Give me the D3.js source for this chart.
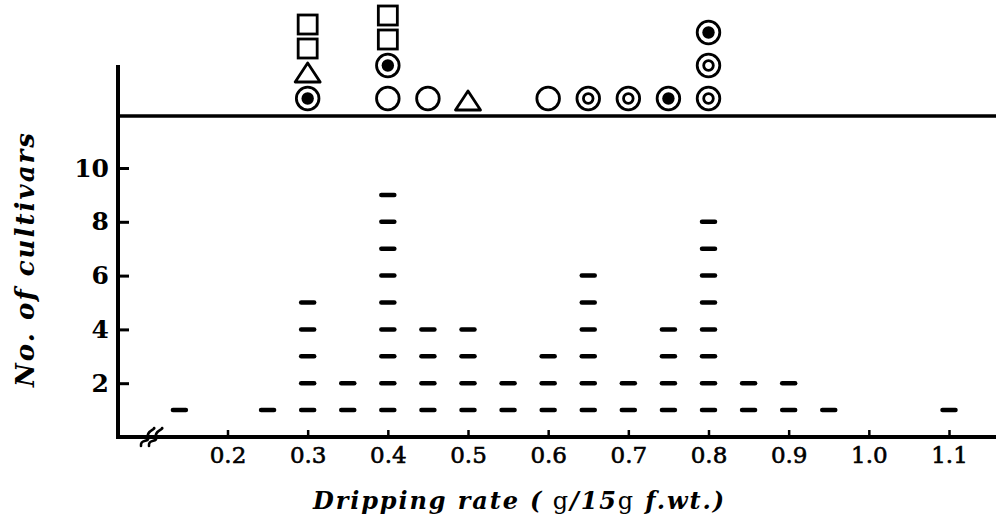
<!DOCTYPE html>
<html>
<head>
<meta charset="utf-8">
<script src="https://cdn.jsdelivr.net/npm/d3@7"></script>
<style>
  body { margin: 0; background: #fff; }
  text { font-family: "DejaVu Serif", serif; fill: #000; }
</style>
</head>
<body>
<div id="chart"></div>
<script>

// set the dimensions of the graph
var width = 999
var height = 526

// dripping rate classes and the number of cultivars in each
var rates  = [0.14, 0.25, 0.3, 0.35, 0.4, 0.45, 0.5, 0.55, 0.6, 0.65, 0.7, 0.75, 0.8, 0.85, 0.9, 0.95, 1.1]
var counts = [1, 1, 5, 2, 9, 4, 4, 2, 3, 6, 2, 4, 8, 2, 2, 1, 1]

// axis ticks
var xTicks = [0.2, 0.3, 0.4, 0.5, 0.6, 0.7, 0.8, 0.9, 1.0, 1.1]
var xTickLabels = ["0.2", "0.3", "0.4", "0.5", "0.6", "0.7", "0.8", "0.9", "1.0", "1.1"]
var yTicks = [2, 4, 6, 8, 10]

// symbols above the top line, stacked from the bottom up
var symbolRates = [0.3, 0.4, 0.45, 0.5, 0.6, 0.65, 0.7, 0.75, 0.8]
var symbolStacks = [
  ["dot", "triangle", "square", "square"],
  ["circle", "dot", "square", "square"],
  ["circle"],
  ["triangle"],
  ["circle"],
  ["ring"],
  ["ring"],
  ["dot"],
  ["ring", "ring", "dot"]
]

var svg = d3.select("#chart")
  .append("svg")
    .attr("width", width)
    .attr("height", height)

var x = d3.scaleLinear().domain([0.2, 1.1]).range([227.5, 949])
var y = d3.scaleLinear().domain([0, 10]).range([437, 168])

var left = 118, right = 996, topY = 65, lineY = 116

// frame: y axis, x axis, and the line the symbols stand on
svg.append("line")
  .attr("x1", left).attr("x2", left).attr("y1", topY).attr("y2", y(0) + 2)
  .attr("stroke", "#000").attr("stroke-width", 4)
svg.append("line")
  .attr("x1", left - 2).attr("x2", right).attr("y1", y(0)).attr("y2", y(0))
  .attr("stroke", "#000").attr("stroke-width", 4)
svg.append("line")
  .attr("x1", left - 2).attr("x2", right).attr("y1", lineY).attr("y2", lineY)
  .attr("stroke", "#000").attr("stroke-width", 3.5)

// axis break on the x axis (two wavy strokes)
var brk = svg.append("g").attr("transform", "translate(152," + y(0) + ")")
;[-4, 4].forEach(function(dx) {
  brk.append("path")
    .attr("d", "M" + (dx - 7) + ",9 C" + (dx - 8) + ",1 " + (dx + 2) + ",6 " + dx + ",0 S" + (dx + 8) + ",-8 " + (dx + 6) + ",-9")
    .attr("fill", "none").attr("stroke", "#000").attr("stroke-width", 2.6).attr("stroke-linecap", "round")
})

// x axis ticks and labels
var xAxis = svg.append("g")
  .attr("transform", "translate(0," + y(0) + ")")
  .call(d3.axisBottom(x)
    .tickValues(xTicks)
    .tickFormat(function(d, i) { return xTickLabels[i] })
    .tickSizeInner(-7)
    .tickSizeOuter(0)
    .tickPadding(10))
xAxis.select(".domain").remove()
xAxis.selectAll(".tick line").attr("stroke", "#000").attr("stroke-width", 2.5)
xAxis.selectAll(".tick text")
  .attr("font-family", "DejaVu Serif")
  .attr("font-size", 23)
  .attr("fill", "#000")
  .attr("stroke", "#000").attr("stroke-width", 0.6)

// y axis ticks and labels
var yAxis = svg.append("g")
  .attr("transform", "translate(" + left + ",0)")
  .call(d3.axisLeft(y)
    .tickValues(yTicks)
    .tickSizeInner(-11)
    .tickSizeOuter(0)
    .tickPadding(9))
yAxis.select(".domain").remove()
yAxis.selectAll(".tick line").attr("stroke", "#000").attr("stroke-width", 3)
yAxis.selectAll(".tick text")
  .attr("font-family", "DejaVu Serif")
  .attr("font-weight", "bold")
  .attr("font-size", 25)
  .attr("fill", "#000")

// one dash per cultivar
var dashes = []
rates.forEach(function(r, i) {
  for (var k = 1; k <= counts[i]; k++) dashes.push({ rate: r, n: k })
})
svg.selectAll(".dash")
  .data(dashes)
  .enter()
  .append("line")
    .attr("class", "dash")
    .attr("x1", function(d) { return x(d.rate) - 6.5 })
    .attr("x2", function(d) { return x(d.rate) + 6.5 })
    .attr("y1", function(d) { return y(d.n) })
    .attr("y2", function(d) { return y(d.n) })
    .attr("stroke", "#000")
    .attr("stroke-width", 4.5)
    .attr("stroke-linecap", "round")

// symbols
var symSize = { circle: 25, dot: 25, ring: 25, triangle: 21, square: 21 }
var isRound = function(t) { return t == "circle" || t == "dot" || t == "ring" }
symbolRates.forEach(function(r, i) {
  var cx = x(r)
  var bottom = lineY - 5
  var prev = null
  symbolStacks[i].forEach(function(type) {
    if (prev) bottom -= (isRound(prev) && isRound(type)) ? 8 : 3
    var h = symSize[type]
    var cy = bottom - h / 2
    var g = svg.append("g").attr("transform", "translate(" + cx + "," + cy + ")")
    if (type == "square") {
      g.append("rect").attr("x", -9.5).attr("y", -9.5).attr("width", 19).attr("height", 19)
        .attr("fill", "#fff").attr("stroke", "#000").attr("stroke-width", 2.8)
    } else if (type == "triangle") {
      g.append("path").attr("d", "M0,-9.5 L12.5,9.5 L-12.5,9.5 Z")
        .attr("fill", "#fff").attr("stroke", "#000").attr("stroke-width", 2.8).attr("stroke-linejoin", "round")
    } else {
      g.append("circle").attr("r", 11.3)
        .attr("fill", "#fff").attr("stroke", "#000").attr("stroke-width", 2.8)
      if (type == "dot") g.append("circle").attr("r", 6.2).attr("fill", "#000")
      if (type == "ring") g.append("circle").attr("r", 4.8).attr("fill", "none").attr("stroke", "#000").attr("stroke-width", 2.8)
    }
    bottom = bottom - h
    prev = type
  })
})

// axis titles
svg.append("text")
  .attr("transform", "translate(34,260) rotate(-90)")
  .attr("text-anchor", "middle")
  .attr("font-size", 26)
  .attr("font-weight", "bold")
  .attr("font-style", "italic")
  .attr("textLength", 254)
  .attr("lengthAdjust", "spacing")
  .text("No. of cultivars")

var xt = svg.append("text")
  .attr("x", 313).attr("y", 509)
  .attr("font-size", 24)
  .attr("textLength", 411)
  .attr("lengthAdjust", "spacing")
xt.append("tspan").attr("font-weight", "bold").attr("font-style", "italic").text("Dripping rate (")
xt.append("tspan").text(" g")
xt.append("tspan").attr("font-weight", "bold").attr("font-style", "italic").text("/15")
xt.append("tspan").text("g")
xt.append("tspan").attr("font-weight", "bold").attr("font-style", "italic").text("  f.wt.)")

</script>
</body>
</html>
